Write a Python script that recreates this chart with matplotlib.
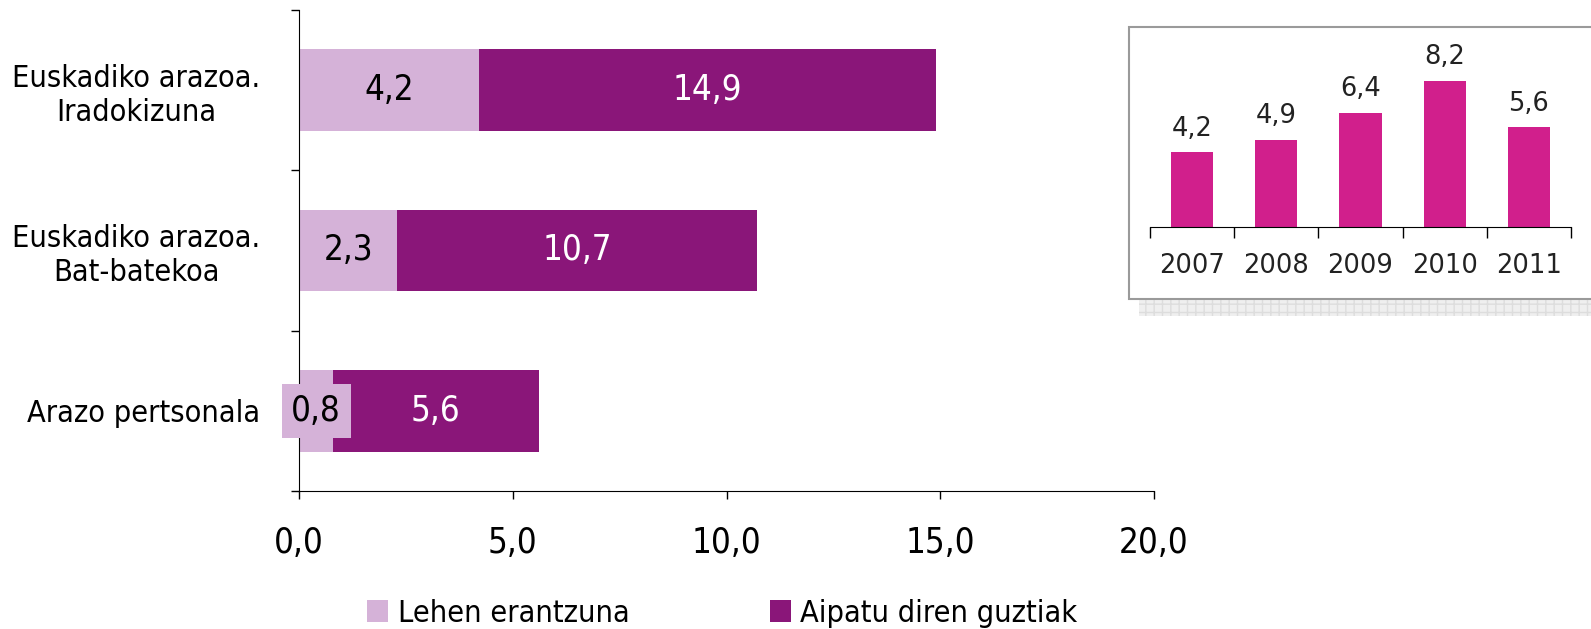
import matplotlib
matplotlib.use('Agg')
import matplotlib.pyplot as plt
from matplotlib.patches import Rectangle, Patch

plt.rcParams['font.family'] = ['DejaVu Sans']
plt.rcParams['font.stretch'] = 'condensed'

# main chart data
categories = ['Euskadiko arazoa.\nIradokizuna', 'Euskadiko arazoa.\nBat-batekoa', 'Arazo pertsonala']
first_answer = [4.2, 2.3, 0.8]
all_mentioned = [14.9, 10.7, 5.6]
x_ticks = [0, 5, 10, 15, 20]
x_tick_labels = ['0,0', '5,0', '10,0', '15,0', '20,0']

# inset data
years = ['2007', '2008', '2009', '2010', '2011']
year_values = [4.2, 4.9, 6.4, 8.2, 5.6]

light = '#D5B2D8'
dark = '#8A1679'
magenta = '#D11F8C'

def fmt(v):
    return f'{v:.1f}'.replace('.', ',')

fig = plt.figure(figsize=(15.91, 6.29), dpi=100)

ax = fig.add_axes([0.188, 0.2194, 0.5374, 0.7647])
ax.patch.set_visible(False)
ypos = [2, 1, 0]
ax.barh(ypos, all_mentioned, height=0.51, color=dark)
ax.barh(ypos, first_answer, height=0.51, color=light)

for y, a, b in zip(ypos, first_answer, all_mentioned):
    if a < 1:
        ax.text(a / 2, y, fmt(a), ha='center', va='center', fontsize=25, color='black',
                bbox=dict(boxstyle='square,pad=0.28', fc=light, ec='none'))
    else:
        ax.text(a / 2, y, fmt(a), ha='center', va='center', fontsize=25, color='black')
    ax.text((a + b) / 2, y, fmt(b), ha='center', va='center', fontsize=25, color='white')

ax.set_xlim(0, 20)
ax.set_ylim(-0.5, 2.5)
ax.set_xticks(x_ticks)
ax.set_xticklabels(x_tick_labels, fontsize=25)
ax.set_yticks(ypos)
ax.set_yticklabels(categories, fontsize=22, multialignment='center')
ax.set_yticks([-0.5, 0.5, 1.5, 2.5], minor=True)
ax.tick_params(axis='y', which='major', length=0, pad=28)
ax.tick_params(axis='y', which='minor', length=6, width=1)
ax.tick_params(axis='x', length=6, width=1, pad=19)
ax.spines['top'].set_visible(False)
ax.spines['right'].set_visible(False)

# inset frame with shadow
shadow = Rectangle((0.716, 0.4976), 0.3, 0.028, transform=fig.transFigure, zorder=-2,
                   facecolor='#efefef', edgecolor='#dddddd', hatch='++', linewidth=0)
frame = Rectangle((0.7096, 0.5246), 0.3, 0.4324, transform=fig.transFigure, zorder=-1,
                  facecolor='white', edgecolor='#9a9a9a', linewidth=1.5)
fig.patches.extend([shadow, frame])

ins = fig.add_axes([0.7228, 0.6391, 0.2646, 0.283])
ins.patch.set_alpha(0)
xs = range(len(years))
ins.bar(xs, year_values, width=0.5, color=magenta)
for x, v in zip(xs, year_values):
    ins.text(x, v + 0.6, fmt(v), ha='center', va='bottom', fontsize=18.5,
             fontstretch='normal', color='#222222')
ins.set_xlim(-0.5, 4.5)
ins.set_ylim(0, 10)
ins.set_yticks([])
ins.set_xticks(list(xs))
ins.set_xticklabels(years, fontsize=18.5, fontstretch='normal', color='#222222')
ins.set_xticks([-0.5, 0.5, 1.5, 2.5, 3.5, 4.5], minor=True)
ins.tick_params(axis='x', which='major', length=0, pad=19)
ins.tick_params(axis='x', which='minor', length=8, width=1)
for s in ['top', 'right', 'left']:
    ins.spines[s].set_visible(False)

handles = [Patch(facecolor=light, label='Lehen erantzuna'),
           Patch(facecolor=dark, label='Aipatu diren guztiak')]
fig.legend(handles=handles, loc='center', bbox_to_anchor=(0.454, 0.0254), ncol=2,
           frameon=False, fontsize=22, handlelength=0.7, handleheight=0.7,
           handletextpad=0.3, columnspacing=4.6)

fig.savefig('out.png', dpi=100)
